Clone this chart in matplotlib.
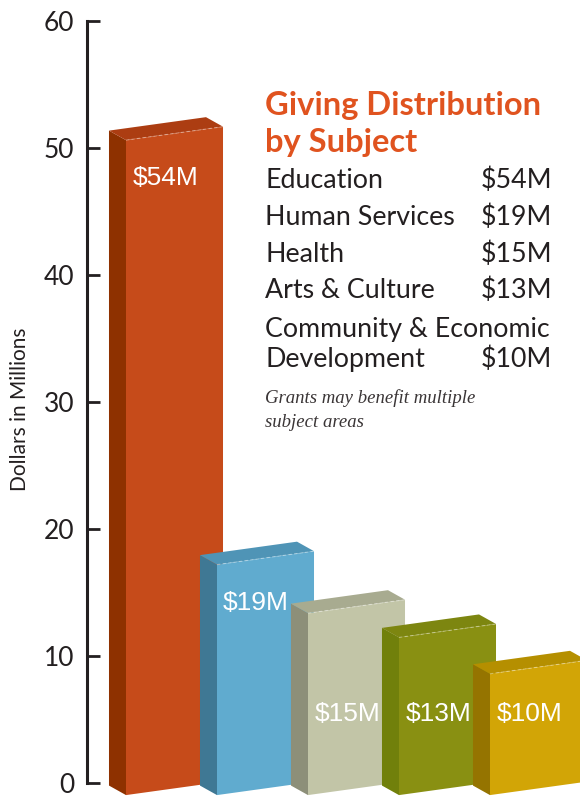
import matplotlib
matplotlib.use("Agg")
import matplotlib.pyplot as plt
from matplotlib.patches import Polygon

# data
subjects = ["Education", "Human Services", "Health", "Arts & Culture", "Community & Economic\nDevelopment"]
values = [54, 19, 15, 13, 10]
value_labels = ["$54M", "$19M", "$15M", "$13M", "$10M"]
y_ticks = [0, 10, 20, 30, 40, 50, 60]

# face colours: front, side, top
front_colors = ["#C64B1A", "#60ABCF", "#C2C5A7", "#899012", "#D2A506"]
side_colors = ["#8E3100", "#3F7894", "#8D8F79", "#71800B", "#957400"]
top_colors = ["#AC3D12", "#4F94B6", "#A8AB90", "#7D8610", "#B58F00"]

# fake perspective settings
W = 1.066      # front width
DX = 0.187     # depth, x
DY = 0.75      # depth, y
RISE = 1.06    # slope of the front face
BASE = -0.95
SQUASH = 0.955

fig = plt.figure(figsize=(5.8, 7.96), dpi=100)
ax = fig.add_axes([0.15, 0.0163, 0.85, 0.9573])
ax.set_xlim(-0.4286, 4.989)
ax.set_ylim(0, 60)

for i, v in enumerate(values):
    h = v * SQUASH
    b = BASE
    front = [(i, b), (i + W, b + RISE), (i + W, b + RISE + h), (i, b + h)]
    side = [(i - DX, b + DY), (i, b), (i, b + h), (i - DX, b + h + DY)]
    top = [(i, b + h), (i + W, b + h + RISE), (i + W - DX, b + h + RISE + DY), (i - DX, b + h + DY)]
    z = 2 + i
    ax.add_patch(Polygon(side, closed=True, facecolor=side_colors[i], edgecolor="none", zorder=z, clip_on=False))
    ax.add_patch(Polygon(top, closed=True, facecolor=top_colors[i], edgecolor="none", zorder=z, clip_on=False))
    ax.add_patch(Polygon(front, closed=True, facecolor=front_colors[i], edgecolor="none", zorder=z, clip_on=False))
    ax.plot([i, i + W], [b + h, b + h + RISE], color="white", alpha=0.35, lw=0.8,
            ls=(0, (3, 2)), zorder=z, clip_on=False)
    # value label on the bar
    ly = b + h - 3 if v > 15 else 5.4
    ax.text(i + 0.43, ly, value_labels[i], color="white", fontsize=19,
            family="Liberation Sans", ha="center", va="center", zorder=20)

# axis styling
for s in ["top", "right", "bottom"]:
    ax.spines[s].set_visible(False)
ax.spines["left"].set_linewidth(2.2)
ax.spines["left"].set_color("#231F20")
ax.set_xticks([])
ax.set_yticks(y_ticks)
ax.tick_params(axis="y", direction="in", length=9.5, width=2.0, color="#231F20",
               labelsize=19, labelcolor="#231F20", pad=9)
for lab in ax.get_yticklabels():
    lab.set_family("Lato")
ax.set_ylabel("Dollars in Millions", fontsize=15, family="Lato", color="#231F20")
ax.yaxis.set_label_coords(-0.115, 0.49)

# legend text block
fig.text(265 / 580, 1 - 115 / 796, "Giving Distribution", color="#E0531F", fontsize=23.5,
         family="Lato", weight="bold", ha="left", va="baseline")
fig.text(265 / 580, 1 - 152 / 796, "by Subject", color="#E0531F", fontsize=23.5,
         family="Lato", weight="bold", ha="left", va="baseline")
rows_y = [188, 225, 262, 298, 367]
for name, lab, yy in zip(subjects, value_labels, rows_y):
    if "\n" in name:
        first, second = name.split("\n")
        fig.text(265 / 580, 1 - 337 / 796, first, fontsize=19.3, family="Lato",
                 color="#231F20", ha="left", va="baseline")
        name = second
    fig.text(265 / 580, 1 - yy / 796, name, fontsize=19.3, family="Lato",
             color="#231F20", ha="left", va="baseline")
    fig.text(481 / 580, 1 - yy / 796, lab, fontsize=19.3, family="Lato",
             color="#231F20", ha="left", va="baseline")

fig.text(265 / 580, 1 - 403 / 796, "Grants may benefit multiple", fontsize=13.5,
         family="Liberation Serif", style="italic", color="#3A3536", ha="left", va="baseline")
fig.text(265 / 580, 1 - 427 / 796, "subject areas", fontsize=13.5,
         family="Liberation Serif", style="italic", color="#3A3536", ha="left", va="baseline")

fig.savefig("out.png", dpi=100)
